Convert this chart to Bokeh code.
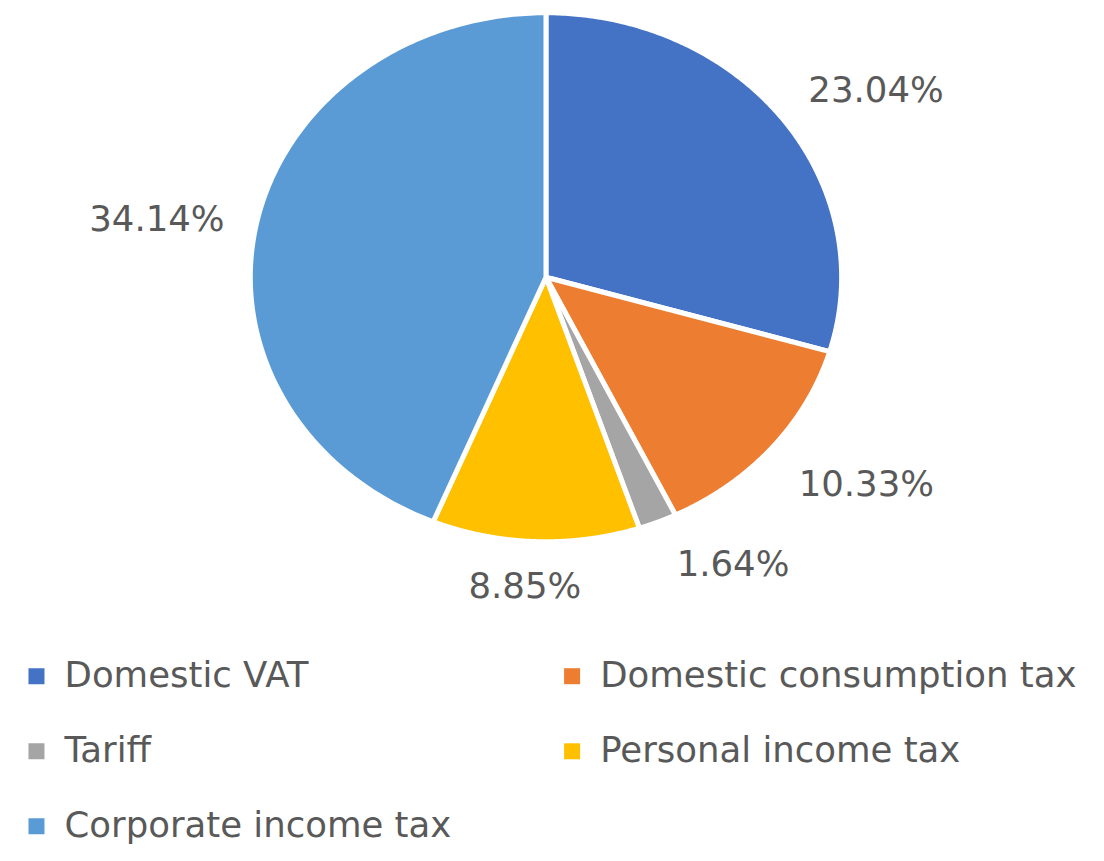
import numpy as np
from bokeh.plotting import figure
from bokeh.models import Range1d
from bokeh.core.properties import value
from bokeh.embed import file_html
from bokeh.resources import INLINE

# ---- data ----
categories = ["Domestic VAT", "Domestic consumption tax", "Tariff",
              "Personal income tax", "Corporate income tax"]
shares = [23.04, 10.33, 1.64, 8.85, 34.14]
colors = ["#4472C4", "#ED7D31", "#A5A5A5", "#FFC000", "#5B9BD5"]

# ---- layout / style (in reference-picture units) ----
W, H = 1088, 845
REF_W, REF_H = 1104, 861
CX, CY, RX, RY = 553.5, 282.0, 298.5, 268.0
label_offsets = [(96, -31), (97, 37), (77, 44), (-11, 46), (-102, -8)]
FONT = "DejaVu Sans"
FS = "35.5px"
TXT = "#595959"
leg_x0, leg_dx, leg_y0, leg_dy, leg_gap = 36.5, 543.5, 688.5, 76.5, 28.5

p = figure(width=W, height=H, x_range=Range1d(0, REF_W), y_range=Range1d(REF_H, 0),
           output_backend="svg", toolbar_location=None,
           x_axis_location=None, y_axis_location=None, min_border=0)
p.grid.visible = False
p.outline_line_color = None

total = float(sum(shares))
fracs = np.array(shares) / total
ends = np.cumsum(fracs) * 2 * np.pi
starts = ends - fracs * 2 * np.pi

xs, ys = [], []
for a0, a1 in zip(starts, ends):
    t = np.linspace(a0, a1, 200)
    xs.append(np.concatenate([[CX], CX + (RX + 1.5) * np.sin(t)]).tolist())
    ys.append(np.concatenate([[CY], CY - (RY + 1.5) * np.cos(t)]).tolist())

p.patches(xs=xs, ys=ys, fill_color=colors, line_color="white", line_width=5,
          line_join="miter")

# data labels
mids = (starts + ends) / 2
lx = [CX + RX * np.sin(m) + o[0] for m, o in zip(mids, label_offsets)]
ly = [CY - RY * np.cos(m) + o[1] for m, o in zip(mids, label_offsets)]
p.text(x=lx, y=ly, text=[f"{v:.2f}%" for v in shares], text_font=value(FONT),
       text_font_size=FS, text_color=TXT, text_align="center",
       text_baseline="middle")

# legend (2 columns, row-major)
mx = [leg_x0 + (i % 2) * leg_dx for i in range(len(categories))]
my = [leg_y0 + (i // 2) * leg_dy for i in range(len(categories))]
p.scatter(x=mx, y=my, marker="square", size=16, fill_color=colors, line_color=None)
p.text(x=[x + leg_gap for x in mx], y=[y - 1.5 for y in my], text=categories,
       text_font=value(FONT), text_font_size=FS, text_color=TXT,
       text_align="left", text_baseline="middle")

open("out.html", "w").write(file_html(p, INLINE))
